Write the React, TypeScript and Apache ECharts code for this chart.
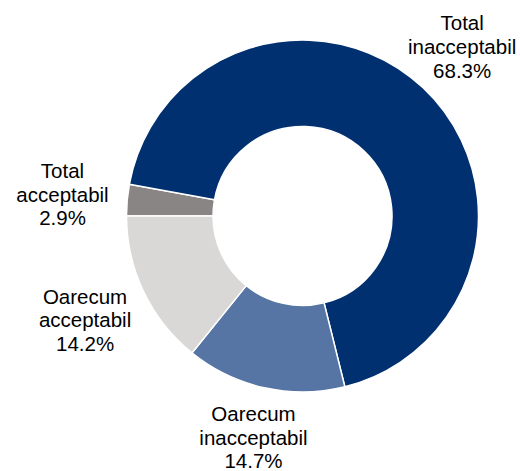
import React, { useEffect, useRef } from "react";
import * as echarts from "echarts";

const categories = ["Total acceptabil", "Total inacceptabil", "Oarecum inacceptabil", "Oarecum acceptabil"];
const values = [2.9, 68.3, 14.7, 14.2];

const colors = ["#898584", "#00306F", "#5675A5", "#D9D8D7"];
const labelRadius = [241, 233, 226.5, 241];
const CX = 302.5;
const CY = 216;
const START = 180;

export default function App() {
  const ref = useRef<HTMLDivElement>(null);
  useEffect(() => {
    document.body.style.margin = "0";
    if (!ref.current) return;
    const chart = echarts.init(ref.current, undefined, { renderer: "svg" });
    const sum = values.reduce((a, b) => a + b, 0);
    const mids: number[] = [];
    let cum = 0;
    values.forEach((v) => {
      mids.push(START - ((cum + v / 2) / sum) * 360);
      cum += v;
    });
    chart.setOption({
      animation: false,
      series: [
        {
          type: "pie",
          center: [CX, CY],
          radius: [89.5, 176],
          startAngle: START,
          clockwise: true,
          avoidLabelOverlap: false,
          itemStyle: { borderColor: "#ffffff", borderWidth: 1.5 },
          label: {
            show: true,
            position: "inside",
            color: "#000000",
            fontFamily: "Liberation Sans, Arial, sans-serif",
            fontSize: 20.5,
            lineHeight: 23.8,
            align: "center",
            formatter: (p: any) => p.name.replace(" ", "\n") + "\n" + Number(p.value).toFixed(1) + "%",
          },
          labelLine: { show: false },
          labelLayout: (p: any) => {
            const a = (mids[p.dataIndex] * Math.PI) / 180;
            const d = labelRadius[p.dataIndex];
            return {
              x: CX + d * Math.cos(a),
              y: CY - d * Math.sin(a),
              align: "center",
              verticalAlign: "middle",
            };
          },
          data: categories.map((c, i) => ({ name: c, value: values[i], itemStyle: { color: colors[i] } })),
        },
      ],
    });
    return () => chart.dispose();
  }, []);
  return <div ref={ref} style={{ width: 520, height: 471 }} />;
}
